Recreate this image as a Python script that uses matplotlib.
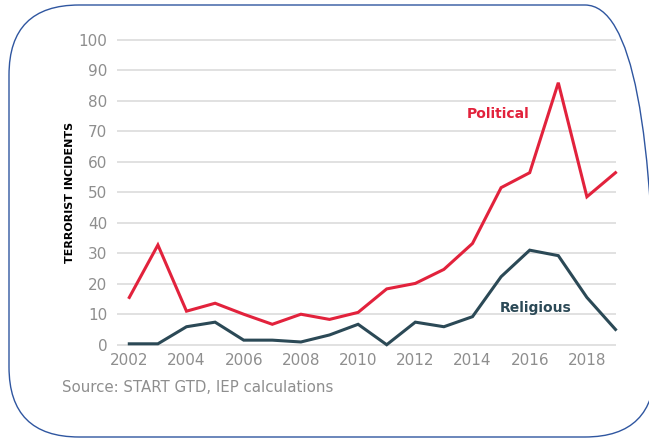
import matplotlib
matplotlib.use("Agg")
import matplotlib.pyplot as plt
from matplotlib.patches import FancyBboxPatch
from matplotlib.transforms import IdentityTransform

# data
years = list(range(2002, 2020))
political = [15.5, 32.7, 11.0, 13.6, 10.0, 6.7, 10.0, 8.3, 10.6, 18.3,
             20.1, 24.7, 33.2, 51.5, 56.4, 85.9, 48.5, 56.4]
religious = [0.3, 0.3, 5.9, 7.4, 1.5, 1.5, 0.9, 3.2, 6.7, 0.0,
             7.4, 5.9, 9.2, 22.3, 31.0, 29.2, 15.5, 5.0]
x_ticks = list(range(2002, 2019, 2))
y_ticks = list(range(0, 101, 10))

RED = "#e2223c"
SLATE = "#2b4956"
GRAY = "#8e8e8e"
GRID = "#d9d9d9"

W, H = 649, 438
fig = plt.figure(figsize=(W / 100, H / 100), dpi=100)
fig.patch.set_facecolor("white")

# axes placed in pixel terms
left_px, right_px = 117, 615.5
top_px, bottom_px = 36.65, 349.3
ax = fig.add_axes([left_px / W, 1 - bottom_px / H,
                   (right_px - left_px) / W, (bottom_px - top_px) / H])

ax.plot(years, political, color=RED, lw=2.2, solid_joinstyle="miter", clip_on=False, zorder=3)
ax.plot(years, religious, color=SLATE, lw=2.2, solid_joinstyle="miter", clip_on=False, zorder=3)

ax.set_xlim(2001.57, 2019.0)
ax.set_ylim(-1.5, 101)
ax.set_xticks(x_ticks)
ax.set_yticks(y_ticks)
ax.grid(axis="y", color=GRID, lw=1.1)
ax.set_axisbelow(True)
for s in ax.spines.values():
    s.set_visible(False)
ax.tick_params(length=0, colors=GRAY, labelsize=11)
ax.tick_params(axis="y", pad=7)
ax.tick_params(axis="x", pad=3)

# series labels
ax.text(2014.9, 75.6, "Political", color=RED, fontsize=10, fontweight="bold",
        ha="center", va="center")
ax.text(2016.2, 12, "Religious", color=SLATE, fontsize=10, fontweight="bold",
        ha="center", va="center")

fig.text(70 / W, 1 - 192 / H, "TERRORIST INCIDENTS", rotation=90,
         family=["DejaVu Sans Condensed", "DejaVu Sans"], fontweight="bold",
         fontsize=8, color="black", ha="center", va="center")

fig.text(62 / W, 1 - 388 / H, "Source: START GTD, IEP calculations",
         color=GRAY, fontsize=10.8, ha="left", va="center")

# rounded frame around the whole graphic (right side runs off the image)
frame = FancyBboxPatch((9, 1), 646, 432, boxstyle="round,pad=0,rounding_size=70",
                       transform=IdentityTransform(), facecolor="none",
                       edgecolor="#2f56a0", lw=1.0)
fig.patches.append(frame)

fig.savefig("out.png", dpi=100)
